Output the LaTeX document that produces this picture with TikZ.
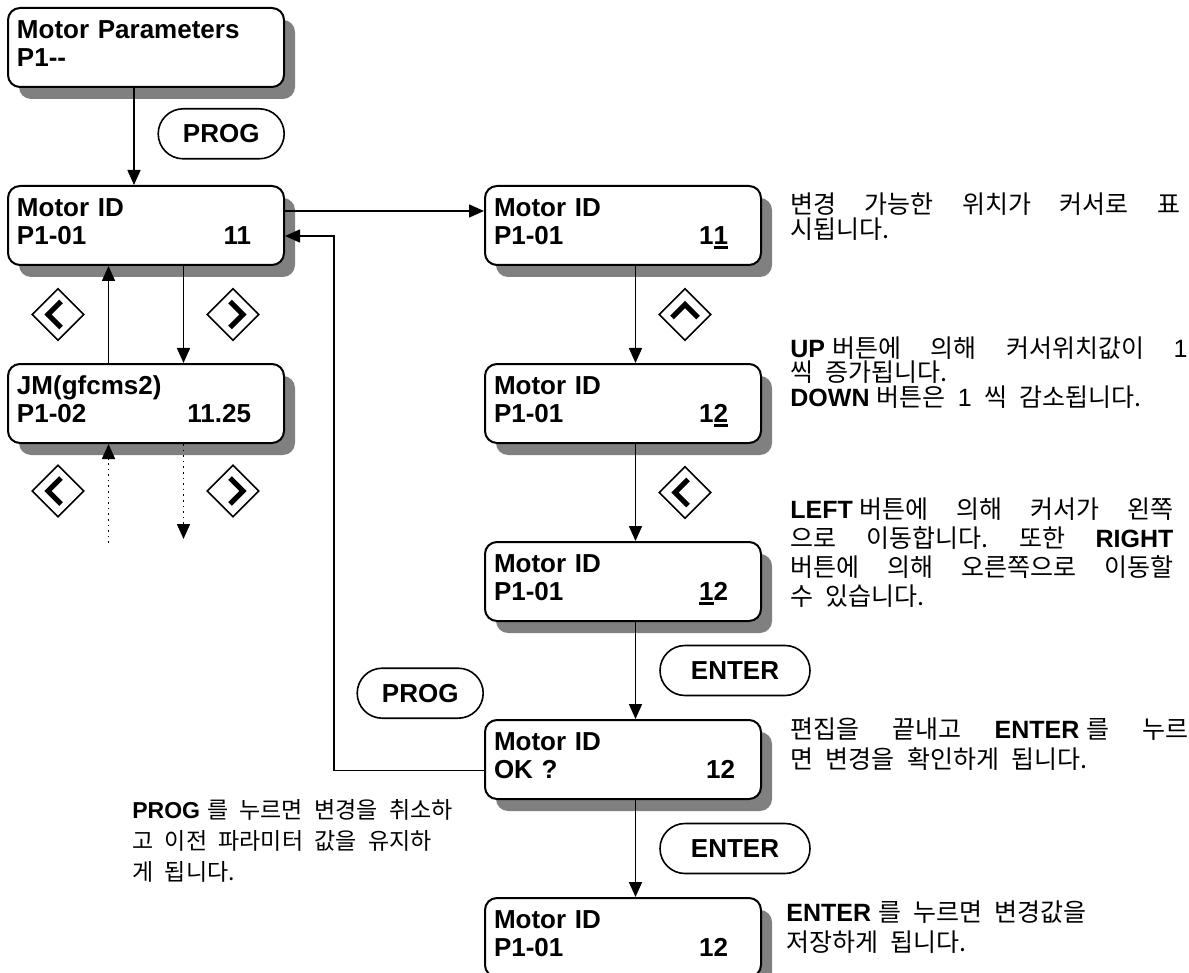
\documentclass[tikz,border=0pt]{standalone}
\usepackage{fontspec}
\setmainfont{Liberation Sans}
\newfontfamily\kr[WordSpace=2.2]{Noto Sans CJK KR}
\usetikzlibrary{arrows.meta,positioning,calc,shapes.geometric,shadows}
\frenchspacing
\setlength{\lineskiplimit}{-20pt}
\newcommand\kb[1]{{\rmfamily\bfseries #1}}
\newcommand\kn[1]{{\rmfamily #1}}
\newcommand\ksp{\hspace{3.5pt}}
\newcommand\curs[1]{\rlap{\rule[-2.5pt]{0.556em}{1.5pt}}#1}
\newcommand\jl[2]{\makebox[#1][s]{#2}}
\newcommand\lcdtxt[4][117pt]{#2\\\makebox[#1][l]{#3\hfill#4}\rule[-4pt]{0pt}{4pt}}
\tikzset{
  lcd/.style={rectangle, rounded corners=6pt, draw, line width=1pt, fill=white,
              drop shadow={shadow xshift=5.5pt, shadow yshift=-6pt, fill=black!50, opacity=1},
              minimum width=138pt, minimum height=39.5pt, text width=129pt, inner xsep=4.5pt,
              align=left, font=\bfseries\fontsize{13}{14}\selectfont},
  bouton/.style={rectangle, rounded corners=12.5pt, draw, line width=0.8pt, fill=white,
                 minimum width=#1, minimum height=25pt, font=\bfseries\fontsize{13}{14}\selectfont},
  touche/.style n args={3}{diamond, draw, line width=0.8pt, minimum size=26pt, inner sep=0pt,
                 path picture={\draw[line width=2.5pt]
                   ([shift={#1}]path picture bounding box.center) --
                   ([shift={#2}]path picture bounding box.center) --
                   ([shift={#3}]path picture bounding box.center);}},
  toucheG/.style={touche={(1.5pt,6.5pt)}{(-5pt,0pt)}{(1.5pt,-6.5pt)}},
  toucheD/.style={touche={(-1.5pt,6.5pt)}{(5pt,0pt)}{(-1.5pt,-6.5pt)}},
  toucheH/.style={touche={(-6.5pt,-1.5pt)}{(0pt,5pt)}{(6.5pt,-1.5pt)}},
  arr/.style={-{Triangle[length=7.5pt,width=6.5pt]}, line width=0.8pt},
  arrpt/.style={arr, dotted},
  note/.style={align=left, inner sep=0pt, anchor=north west, font=\kr\fontsize{12.5}{15}\selectfont},
}
\begin{document}
\begin{tikzpicture}[node distance=48.5pt]
  \useasboundingbox (0,0) rectangle (594.5pt,-486.5pt);
  % afficheurs
  \node[lcd, anchor=north west] (m0) at (3.5pt,-3.5pt) {Motor Parameters\\P1-{}-\rule[-4pt]{0pt}{4pt}};
  \node[lcd, below=of m0] (m1) {\lcdtxt{Motor ID}{P1-01}{11}};
  \node[lcd, below=of m1] (m2) {\lcdtxt{JM(gfcms2)}{P1-02}{11.25}};
  \node[lcd, right=99.5pt of m1] (r1) {\lcdtxt{Motor ID}{P1-01}{1\curs{1}}};
  \node[lcd, below=of r1] (r2) {\lcdtxt{Motor ID}{P1-01}{1\curs{2}}};
  \node[lcd, below=of r2] (r3) {\lcdtxt{Motor ID}{P1-01}{\curs{1}2}};
  \node[lcd, below=of r3] (r4) {\lcdtxt[120.5pt]{Motor ID}{OK ?}{12}};
  \node[lcd, below=of r4] (r5) {\lcdtxt{Motor ID}{P1-01}{12}};
  % boutons
  \node[bouton=63pt, below left=10pt and 0pt of m0.south east] (p1) {PROG};
  \node[bouton=75pt] (e1) at ($(r3.south)!0.5!(r4.north)+(56pt,0)$) {ENTER};
  \node[bouton=75pt] (e2) at ($(r4.south)!0.5!(r5.north)+(56pt,0)$) {ENTER};
  \node[bouton=63pt, above left=0pt and 0pt of r4.north west] (p2) {PROG};
  % touches
  \node[toucheG] (tl1) at ($(m1.south)!0.5!(m2.north)+(-44pt,0)$) {};
  \node[toucheD] (tr1) at ($(m1.south)!0.5!(m2.north)+(43.5pt,0)$) {};
  \node[toucheG] (tl2) at ($(m2.south)+(-44pt,-23.5pt)$) {};
  \node[toucheD] (tr2) at ($(m2.south)+(43.5pt,-23.5pt)$) {};
  \node[toucheH] (tu) at ($(r1.south)!0.5!(r2.north)+(31pt,0)$) {};
  \node[toucheG] (tl3) at ($(r2.south)!0.5!(r3.north)+(31pt,0)$) {};
  % fleches
  \draw[arr] ([xshift=-6pt]m0.south) -- ([xshift=-6pt]m1.north);
  \draw[arr] ([yshift=7.25pt]m1.east) -- ([yshift=7.25pt]r1.west);
  \draw[arr] ([xshift=18.75pt]m1.south) -- ([xshift=18.75pt]m2.north);
  \draw[arr] ([xshift=-18.75pt]m2.north) -- ([xshift=-18.75pt]m1.south);
  \coordinate (q1) at ($(m2.south)+(-18.75pt,-49.5pt)$);
  \coordinate (q2) at ($(m2.south)+(18.75pt,-47.5pt)$);
  \draw[arrpt] (q1) -- (q1 |- m2.south);
  \draw[arrpt] ([xshift=18.75pt]m2.south) -- (q2);
  \foreach \a/\b in {r1/r2, r2/r3, r3/r4, r4/r5}
    \draw[arr] ([xshift=6.25pt]\a.south) -- ([xshift=6.25pt]\b.north);
  \draw[arr] ([yshift=-5.5pt]r4.west) -| ([xshift=24.5pt,yshift=-5.25pt]m1.east) -- ([yshift=-5.25pt]m1.east);
  % textes
  \node[note, font=\kr\fontsize{12.5}{12.5}\selectfont] (t1) at ($(r1.north east)+(14pt,-3.5pt)$)
    {\jl{195pt}{변경 가능한 위치가 커서로 표}\\시됩니다.};
  \node[note, font=\kr\fontsize{12.5}{12.25}\selectfont] (t2) at ($(r2.north east)+(14pt,13.5pt)$)
    {\jl{198.5pt}{\kb{UP}\ksp 버튼에 의해 커서위치값이 \kn{1}}\\씩 증가됩니다.\\\kb{DOWN}\ksp 버튼은 \kn{1} 씩 감소됩니다.};
  \node[note, font=\kr\fontsize{12.5}{14.5}\selectfont] (t3) at ($(r2.south east)+(14pt,-26.5pt)$)
    {\jl{191.5pt}{\kb{LEFT}\ksp 버튼에 의해 커서가 왼쪽}\\\jl{191.5pt}{으로 이동합니다. 또한 \kb{RIGHT}}\\\jl{191.5pt}{버튼에 의해 오른쪽으로 이동할}\\수 있습니다.};
  \node[note] (t4) at ($(r4.north east)+(14pt,1pt)$)
    {\jl{199pt}{편집을 끝내고 \kb{ENTER}\ksp 를 누르}\\면 변경을 확인하게 됩니다.};
  \node[note] (t5) at ($(r5.north east)+(12pt,-1.5pt)$)
    {\kb{ENTER}\ksp 를 누르면 변경값을\\저장하게 됩니다.};
  \node[note, font=\kr\fontsize{11.5}{15.5}\selectfont] (t6) at ($(r4.south west)+(-176pt,0.5pt)$)
    {\kb{PROG}\ksp 를 누르면 변경을 취소하\\고 이전 파라미터 값을 유지하\\게 됩니다.};
\end{tikzpicture}
\end{document}
